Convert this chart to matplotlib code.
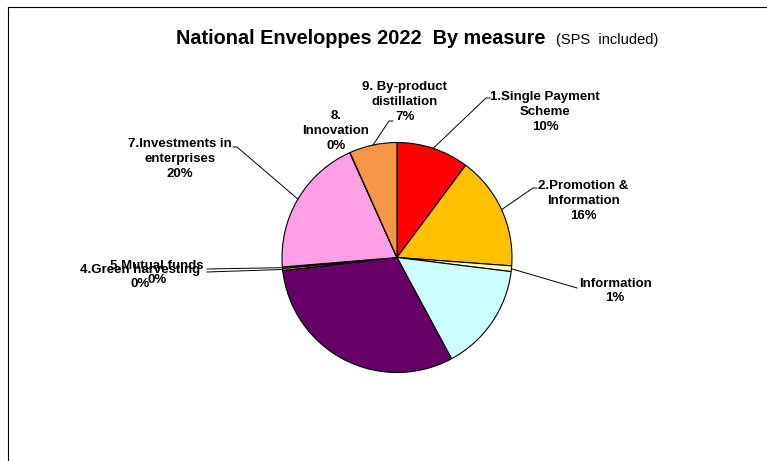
import numpy as np
import matplotlib
matplotlib.use("Agg")
import matplotlib.pyplot as plt
from matplotlib.lines import Line2D

plt.rcParams["font.family"] = ["Liberation Sans", "DejaVu Sans"]

# --- data ---
measures = ["1.Single Payment\nScheme", "2.Promotion &\nInformation", "Information",
            "", "", "4.Green harvesting", "5.Mutual funds",
            "7.Investments in\nenterprises", "8.\nInnovation", "9. By-product\ndistillation"]
shares = [10.2, 16.0, 0.8, 15.2, 31.1, 0.3, 0.2, 19.6, 0.05, 6.7]
colors = ["#FF0000", "#FFC000", "#FFFFCC", "#CCFFFF", "#660066",
          "#99CC00", "#FFFFFF", "#FF9FE6", "#CC99FF", "#F79646"]

W, H = 767, 461
CX, CY, R = 397, 257.5, 115.0


def px(x, y):
    # pixel position in the picture -> data units of the pie axes
    return (x - CX) / R, (CY - y) / R


fig = plt.figure(figsize=(W / 100, H / 100), dpi=100)
ax = fig.add_axes([0, 0, 1, 1])
wedges, _ = ax.pie(shares, colors=colors, startangle=90, counterclock=False,
                   wedgeprops=dict(edgecolor="black", linewidth=0.8))
ax.set_xlim(-CX / R, (W - CX) / R)
ax.set_ylim(-(H - CY) / R, CY / R)
ax.set_aspect("auto")
ax.axis("off")

total = sum(shares)
# label block centre, leader-line end and short tick end, in pixels
label_pos = {
    0: ((545, 112), (486, 98), (490, 98)),
    1: ((583, 201), (533, 188), (537, 188)),
    2: ((615, 291), (577, 288), (577, 288)),
    5: ((140, 277), (207, 272), (207, 272)),
    6: ((157, 273), (207, 269), (207, 269)),
    7: ((180, 159), (237, 147), (233, 147)),
    8: ((336, 131), None, None),
    9: ((405, 102), (389, 121), (393, 121)),
}

for i, ((tx, ty), end, tick) in label_pos.items():
    pct = f"{round(shares[i] / total * 100):.0f}%"
    x, y = px(tx, ty)
    ax.text(x, y, f"{measures[i]}\n{pct}", ha="center", va="center",
            multialignment="center", fontsize=9.5, fontweight="bold",
            linespacing=1.32, zorder=5)
    if end is not None:
        w = wedges[i]
        mid = np.deg2rad((w.theta1 + w.theta2) / 2)
        ex, ey = px(*end)
        kx, ky = px(*tick)
        ax.plot([np.cos(mid), ex, kx], [np.sin(mid), ey, ky],
                color="black", lw=0.7, zorder=4)

# title
fig.text(545 / W, 1 - 44 / H, "National Enveloppes 2022  By measure",
         ha="right", va="baseline", fontsize=14.3, fontweight="bold")
fig.text(556 / W, 1 - 44 / H, "(SPS  included)", ha="left", va="baseline", fontsize=10.5)

# outer frame (top and left edges only visible)
fig.add_artist(Line2D([8 / W, 1], [1 - 7 / H, 1 - 7 / H], color="black", lw=0.8))
fig.add_artist(Line2D([8 / W, 8 / W], [0, 1 - 7 / H], color="black", lw=0.8))

fig.savefig("out.png", dpi=100)
